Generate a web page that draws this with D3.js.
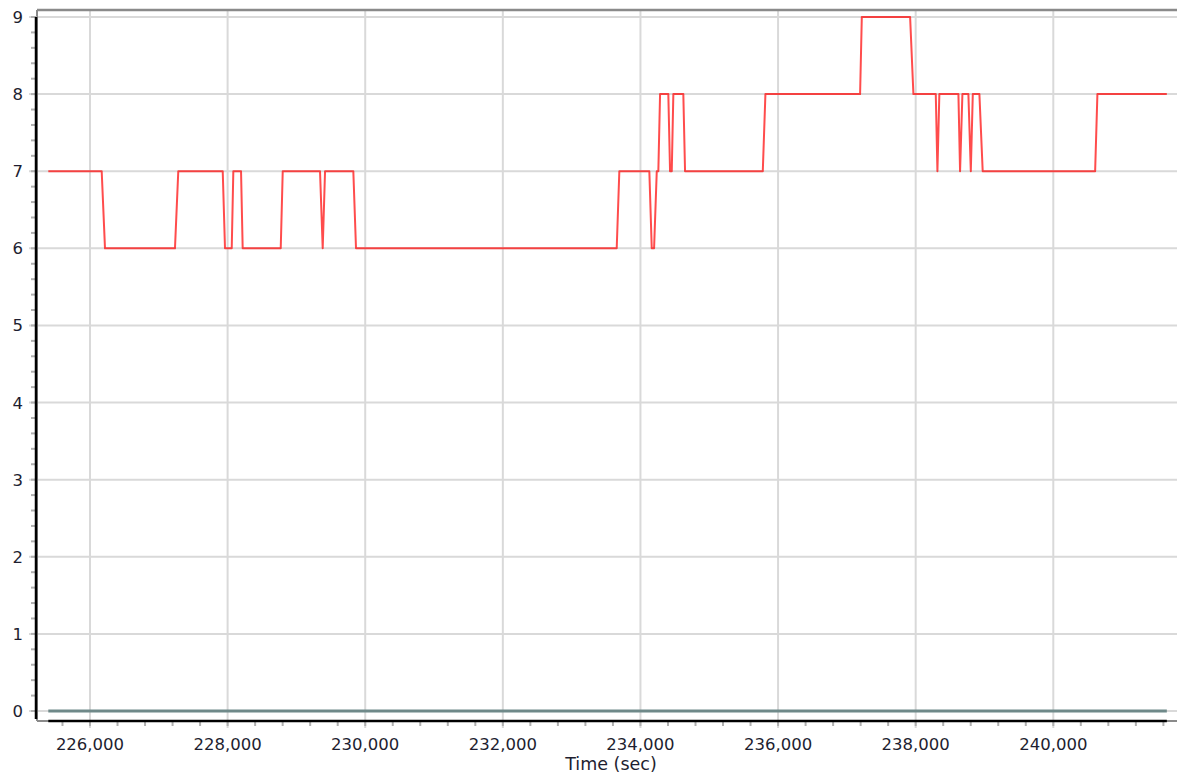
<!DOCTYPE html>
<html>
<head>
<meta charset="utf-8">
<script src="https://cdn.jsdelivr.net/npm/d3@7/dist/d3.min.js"></script>
<style>
  html, body { margin: 0; padding: 0; background: #fff; }
  svg { display: block; }
  text { font-family: "DejaVu Sans", Verdana, sans-serif; fill: #1e1e30; }
</style>
</head>
<body>
<svg id="chart" width="1177" height="780"></svg>
<script>
// ---- data ----
const times = [
  225394, 226170, 226218, 227235, 227283, 227929, 227962, 228060, 228083, 228195,
  228219, 228772, 228801, 229343, 229382, 229416, 229827, 229866, 233655, 233693,
  234129, 234164, 234198, 234237, 234260, 234285, 234405, 234430, 234455, 234478,
  234623, 234648, 235778, 235816, 237192, 237217, 237919, 237967, 238292, 238316,
  238344, 238621, 238645, 238679, 238766, 238801, 238830, 238926, 238974, 240608,
  240641, 241650
];
const values = [
  7, 7, 6, 6, 7, 7, 6, 6, 7, 7,
  6, 6, 7, 7, 6, 7, 7, 6, 6, 7,
  7, 6, 6, 7, 7, 8, 8, 7, 7, 8,
  8, 7, 7, 8, 8, 9, 9, 8, 8, 7,
  8, 8, 7, 8, 8, 7, 8, 8, 7, 7,
  8, 8
];
const zeroTimes = [225394, 241650];
const zeroValues = [0, 0];
const xTickValues = [226000, 228000, 230000, 232000, 234000, 236000, 238000, 240000];
const yTickValues = [0, 1, 2, 3, 4, 5, 6, 7, 8, 9];
const xLabel = "Time (sec)";

// ---- layout ----
const svg = d3.select("#chart");
const W = 1177;
const frameLeft = 37, frameTop = 10, frameBottom = 721;

const x = d3.scaleLinear().domain([226000, 240000]).range([90, 1053.3]);
const y = d3.scaleLinear().domain([0, 9]).range([711, 17]);

const xMinor = d3.range(225600, 241601, 400);
const yMinor = d3.range(0, 45.001, 1).map(d => d / 5);

// grid lines
const grid = svg.append("g");
grid.selectAll(".vg").data(xTickValues).enter().append("line")
  .attr("x1", d => x(d)).attr("x2", d => x(d))
  .attr("y1", frameTop).attr("y2", frameBottom + 7)
  .attr("stroke", "#d9d9d9").attr("stroke-width", 2);
grid.selectAll(".hg").data(yTickValues).enter().append("line")
  .attr("x1", frameLeft - 8).attr("x2", W)
  .attr("y1", d => y(d)).attr("y2", d => y(d))
  .attr("stroke", "#d9d9d9").attr("stroke-width", 2);

// frame (gray)
svg.append("line").attr("x1", frameLeft).attr("x2", W).attr("y1", frameTop).attr("y2", frameTop)
  .attr("stroke", "#8a8a8a").attr("stroke-width", 2.5);
svg.append("line").attr("x1", frameLeft).attr("x2", frameLeft).attr("y1", frameTop).attr("y2", frameBottom)
  .attr("stroke", "#8a8a8a").attr("stroke-width", 2);
svg.append("line").attr("x1", frameLeft).attr("x2", W).attr("y1", frameBottom).attr("y2", frameBottom)
  .attr("stroke", "#8a8a8a").attr("stroke-width", 2);

// minor ticks
svg.append("g").selectAll("line").data(xMinor).enter().append("line")
  .attr("x1", d => x(d)).attr("x2", d => x(d))
  .attr("y1", frameBottom).attr("y2", frameBottom + 5)
  .attr("stroke", "#b0b0b0").attr("stroke-width", 2);
svg.append("g").selectAll("line").data(yMinor).enter().append("line")
  .attr("x1", frameLeft - 6).attr("x2", frameLeft)
  .attr("y1", d => y(d)).attr("y2", d => y(d))
  .attr("stroke", "#b0b0b0").attr("stroke-width", 2);

// axis lines (black)
const xExt = d3.extent(times);
svg.append("line").attr("x1", x(xExt[0])).attr("x2", x(xExt[1]))
  .attr("y1", frameBottom).attr("y2", frameBottom)
  .attr("stroke", "#000").attr("stroke-width", 2.5);
svg.append("line").attr("x1", frameLeft - 1).attr("x2", frameLeft - 1)
  .attr("y1", y(9)).attr("y2", frameBottom - 2)
  .attr("stroke", "#000").attr("stroke-width", 2.5);

// tick labels
svg.append("g").selectAll("text").data(xTickValues).enter().append("text")
  .attr("x", d => x(d)).attr("y", 750)
  .attr("text-anchor", "middle").attr("font-size", "16.5px")
  .text(d3.format(","));
svg.append("g").selectAll("text").data(yTickValues).enter().append("text")
  .attr("x", 23).attr("y", d => y(d) + 6)
  .attr("text-anchor", "end").attr("font-size", "16.5px")
  .text(d => d);
svg.append("text").attr("x", 611).attr("y", 770)
  .attr("text-anchor", "middle").attr("font-size", "17.5px")
  .text(xLabel);

// series
const line = d3.line().x(d => x(d[0])).y(d => y(d[1]));
svg.append("path")
  .attr("d", line(d3.zip(zeroTimes, zeroValues)))
  .attr("fill", "none").attr("stroke", "#6f8989").attr("stroke-width", 3);
svg.append("path")
  .attr("d", line(d3.zip(times, values)))
  .attr("fill", "none").attr("stroke", "#ff0000").attr("stroke-opacity", 0.7)
  .attr("stroke-width", 2).attr("stroke-linejoin", "round");
</script>
</body>
</html>
